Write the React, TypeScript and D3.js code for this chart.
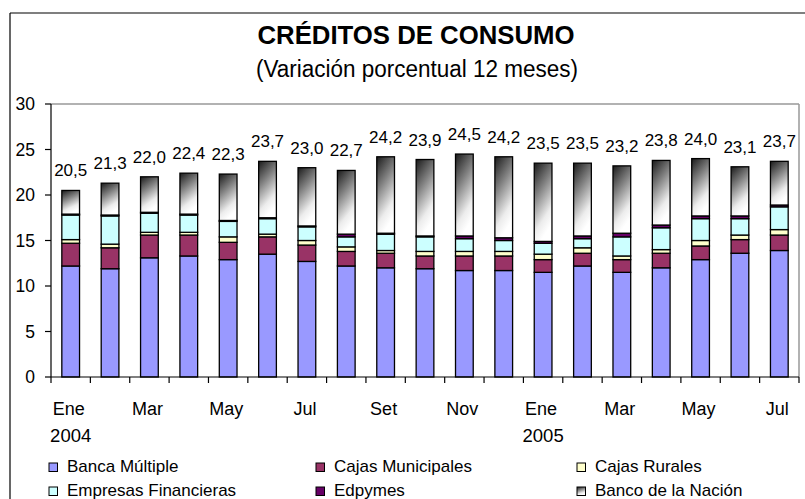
import React from "react";
import * as d3 from "d3";

const months = ["Ene","Feb","Mar","Abr","May","Jun","Jul","Ago","Set","Oct","Nov","Dic","Ene","Feb","Mar","Abr","May","Jun","Jul"];
const years = ["2004","","","","","","","","","","","","2005","","","","","",""];

const bancaMultiple = [12.2,11.9,13.1,13.3,12.9,13.5,12.7,12.2,12.0,11.9,11.7,11.7,11.5,12.2,11.5,12.0,12.9,13.6,13.9];
const cajasMunicipales = [2.5,2.3,2.5,2.3,1.9,1.9,1.8,1.6,1.6,1.4,1.6,1.6,1.4,1.4,1.4,1.6,1.5,1.5,1.7];
const cajasRurales = [0.4,0.4,0.3,0.3,0.6,0.3,0.5,0.5,0.3,0.5,0.5,0.5,0.6,0.6,0.4,0.4,0.6,0.5,0.6];
const empresasFinancieras = [2.7,3.1,2.1,1.9,1.7,1.7,1.5,1.1,1.8,1.6,1.4,1.2,1.2,1.0,2.1,2.4,2.4,1.8,2.5];
const edpymes = [0.1,0.1,0.1,0.1,0.1,0.1,0.1,0.3,0.1,0.1,0.3,0.3,0.2,0.3,0.4,0.3,0.3,0.3,0.2];
const bancoNacion = [2.6,3.5,3.9,4.5,5.1,6.2,6.4,7.0,8.4,8.4,9.0,8.9,8.6,8.0,7.4,7.1,6.3,5.4,4.8];
const totalLabels = ["20,5","21,3","22,0","22,4","22,3","23,7","23,0","22,7","24,2","23,9","24,5","24,2","23,5","23,5","23,2","23,8","24,0","23,1","23,7"];

const seriesNames = ["Banca Múltiple","Cajas Municipales","Cajas Rurales","Empresas Financieras","Edpymes","Banco de la Nación"];
const seriesValues = [bancaMultiple, cajasMunicipales, cajasRurales, empresasFinancieras, edpymes, bancoNacion];
const seriesColors = ["#9999FF","#993366","#FFFFCC","#CCFFFF","#660066","url(#bnGrad)"];
const yTicks = [0,5,10,15,20,25,30];

const W = 805, H = 499;
const left = 51, right = 799, top = 104, bottom = 377;

export default function App() {
  const idx = months.map((_, i) => i);
  const x = d3.scaleBand<number>().domain(idx).range([left, right]).paddingInner(0.55).paddingOuter(0.275);
  const y = d3.scaleLinear().domain([0, 30]).range([bottom, top]);
  const step = x.step();
  const bw = x.bandwidth();

  const rows = idx.map(i => {
    const r: any = { i };
    seriesNames.forEach((s, k) => (r[s] = seriesValues[k][i]));
    return r;
  });
  const stacked = d3.stack<any>().keys(seriesNames)(rows);
  const totals = idx.map(i => d3.sum(seriesValues, s => s[i]));

  const font = "'Liberation Sans', Arial, sans-serif";
  const legendCols = [49, 316, 577];
  const legendRows = [463, 487];

  return (
    <svg width={W} height={H} style={{ position: "absolute", left: 0, top: 0, fontFamily: font }}>
      <defs>
        <linearGradient id="bnGrad" x1="0" y1="0" x2="0.35" y2="1">
          <stop offset="0" stopColor="#1a1a1a" />
          <stop offset="0.4" stopColor="#808080" />
          <stop offset="0.8" stopColor="#ececec" />
          <stop offset="1" stopColor="#ffffff" />
        </linearGradient>
      </defs>
      <rect x={0} y={0} width={W} height={H} fill="#fff" />
      {/* outer frame */}
      <line x1={10} y1={13} x2={W} y2={13} stroke="#000" strokeWidth={1.2} />
      <line x1={10} y1={13} x2={10} y2={H} stroke="#000" strokeWidth={1.2} />

      {/* title */}
      <text x={416} y={44} textAnchor="middle" fontWeight="bold" fontSize={25.5} textLength={317} lengthAdjust="spacingAndGlyphs">CRÉDITOS DE CONSUMO</text>
      <text x={417} y={77} textAnchor="middle" fontSize={23.5} textLength={322} lengthAdjust="spacingAndGlyphs">(Variación porcentual 12 meses)</text>

      {/* plot border */}
      <line x1={left} y1={top} x2={right} y2={top} stroke="#999" strokeWidth={1.5} />
      <line x1={right} y1={top} x2={right} y2={bottom} stroke="#999" strokeWidth={1.5} />

      {/* bars */}
      {stacked.map((layer, k) => (
        <g key={k}>
          {layer.map((d, i) => (
            <rect key={i} x={x(i)} y={y(d[1])} width={bw} height={Math.max(0, y(d[0]) - y(d[1]))}
              fill={seriesColors[k]} stroke="#000" strokeWidth={1.3} />
          ))}
        </g>
      ))}

      {/* data labels */}
      {idx.map(i => (
        <text key={i} x={(x(i) as number) + bw / 2} y={y(totals[i]) - 14} textAnchor="middle" fontSize={17}>{totalLabels[i]}</text>
      ))}

      {/* y axis */}
      <line x1={left} y1={top} x2={left} y2={bottom} stroke="#000" strokeWidth={1.2} />
      {yTicks.map(t => (
        <g key={t}>
          <line x1={left - 6} y1={y(t)} x2={left} y2={y(t)} stroke="#000" strokeWidth={1.2} />
          <text x={35} y={y(t)} textAnchor="end" dominantBaseline="central" fontSize={17.5}>{t}</text>
        </g>
      ))}

      {/* x axis */}
      <line x1={left} y1={bottom} x2={right} y2={bottom} stroke="#000" strokeWidth={1.2} />
      {d3.range(months.length + 1).map(j => {
        const xx = left + j * step;
        return <line key={j} x1={xx} y1={bottom} x2={xx} y2={bottom + 6} stroke="#000" strokeWidth={1.2} />;
      })}
      {idx.filter(i => i % 2 === 0).map(i => (
        <text key={i} x={(x(i) as number) + bw / 2 - 2} y={415} textAnchor="middle" fontSize={18}>{months[i]}</text>
      ))}
      {idx.filter(i => years[i]).map(i => (
        <text key={"y" + i} x={(x(i) as number) + bw / 2} y={441.5} textAnchor="middle" fontSize={18.5}>{years[i]}</text>
      ))}

      {/* legend */}
      {seriesNames.map((s, k) => {
        const cx = legendCols[k % 3];
        const cy = legendRows[Math.floor(k / 3)];
        return (
          <g key={s}>
            <rect x={cx} y={cy} width={8.5} height={8.5} fill={seriesColors[k]} stroke="#000" strokeWidth={1} />
            <text x={cx + 18} y={cy + 9} fontSize={17}>{s}</text>
          </g>
        );
      })}
    </svg>
  );
}
